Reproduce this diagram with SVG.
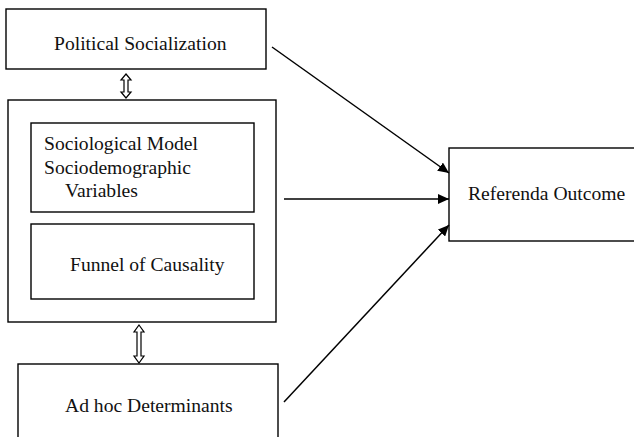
<svg xmlns="http://www.w3.org/2000/svg" width="634" height="437" viewBox="0 0 634 437">
<defs>
<style>
.box{fill:#fff;stroke:#000;stroke-width:1.4}
.t{font-family:"Liberation Serif","Times New Roman",serif;font-size:19.6px;fill:#111}
.ln{stroke:#000;stroke-width:1.5;fill:none}
.dbl{fill:#fff;stroke:#000;stroke-width:1.2}
</style>
<marker id="ah" viewBox="0 0 11 10" refX="11" refY="5" markerWidth="11" markerHeight="10" markerUnits="userSpaceOnUse" orient="auto">
<path d="M0,0 L11,5 L0,10 Z" fill="#000"/>
</marker>
</defs>
<rect width="634" height="437" fill="#fff"/>
<g id="political-socialization">
<rect class="box" x="6" y="9" width="260" height="60"/>
<text class="t" x="54" y="50">Political Socialization</text>
</g>
<g id="sociological-model-group">
<rect class="box" x="8" y="100" width="268" height="222"/>
</g>
<g id="sociological-model">
<rect class="box" x="31" y="123" width="223" height="89"/>
<text class="t" x="44" y="150">Sociological Model</text>
<text class="t" x="44" y="174">Sociodemographic</text>
<text class="t" x="65" y="197">Variables</text>
</g>
<g id="funnel-of-causality">
<rect class="box" x="31" y="224" width="223" height="75"/>
<text class="t" x="70" y="271">Funnel of Causality</text>
</g>
<g id="ad-hoc-determinants">
<rect class="box" x="18" y="364" width="260" height="80"/>
<text class="t" x="65" y="412">Ad hoc Determinants</text>
</g>
<g id="referenda-outcome">
<rect class="box" x="449" y="148" width="190" height="93"/>
<text class="t" x="468" y="200">Referenda Outcome</text>
</g>
<g id="connectors">
<line class="ln" x1="272" y1="47" x2="449" y2="173" marker-end="url(#ah)"/>
<line class="ln" x1="284" y1="199" x2="449" y2="199" marker-end="url(#ah)"/>
<line class="ln" x1="284" y1="402" x2="449" y2="225" marker-end="url(#ah)"/>
<path class="dbl" d="M126,74 L131,80 L128,80 L128,92 L131,92 L126,98 L121,92 L124,92 L124,80 L121,80 Z"/>
<path class="dbl" d="M139,325 L144,332 L141,332 L141,356 L144,356 L139,363 L134,356 L137,356 L137,332 L134,332 Z"/>
</g>
</svg>
